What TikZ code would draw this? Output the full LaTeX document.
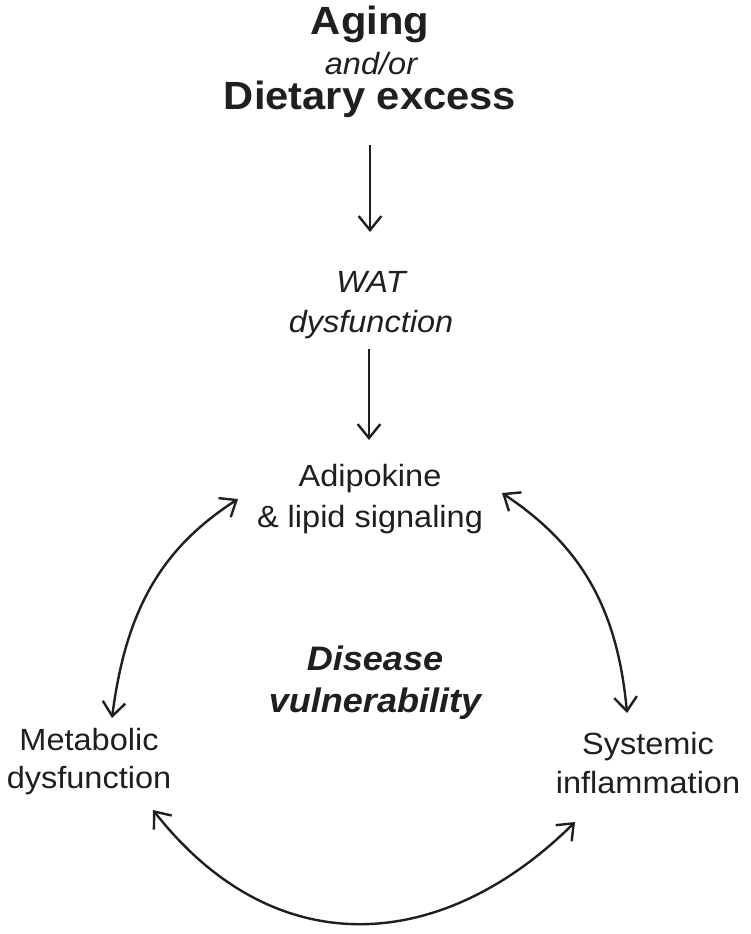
\documentclass[tikz,border=0pt]{standalone}
\usepackage{fontspec}
\setmainfont[FakeStretch=1.06]{Liberation Sans}
\usetikzlibrary{arrows.meta}
\definecolor{ink}{gray}{0.12}
\tikzset{barb/.tip={Straight Barb[length=10.5pt,width=17pt]}}
\begin{document}
\begin{tikzpicture}[x=0.75pt,y=-0.75pt,
  lbl/.style={inner sep=0pt, text=ink, align=center},
  conn/.style={draw=ink, line width=1.8pt, -barb},
  dconn/.style={draw=ink, line width=1.8pt, barb-barb}]
\useasboundingbox[fill=white] (0,0) rectangle (750,934);

% title block
\node[lbl, anchor=base, font=\fontsize{29.5}{34}\selectfont\bfseries] (aging) at (370,35) {Aging};
\node[lbl, anchor=base, font=\fontsize{23}{27}\selectfont\itshape] (andor) at (371,75) {and/or};
\node[lbl, anchor=base, font=\fontsize{29.5}{34}\selectfont\bfseries] (diet) at (370,110) {Dietary excess};

% chain
\node[lbl, anchor=north, font=\fontsize{23}{30}\selectfont\itshape] (wat) at (371,271) {WAT\\dysfunction};
\node[lbl, anchor=north, font=\fontsize{23}{30.75}\selectfont] (adipo) at (370,464) {Adipokine\\\& lipid signaling};
\node[lbl, anchor=north, font=\fontsize{25.5}{31.5}\selectfont\bfseries\itshape] (dis) at (375,646) {Disease\\vulnerability};
\node[lbl, anchor=north, font=\fontsize{23}{28.5}\selectfont] (meta) at (89,728) {Metabolic\\dysfunction};
\node[lbl, anchor=north, font=\fontsize{23}{29.25}\selectfont] (sys) at (648,732) {Systemic\\inflammation};

% connector ends
\coordinate (a1s) at (370,145);
\coordinate (a1e) at (370,232);
\coordinate (a2s) at (369,349);
\coordinate (a2e) at (369,440);
\coordinate (lt) at (238,499);
\coordinate (lb) at (112,718);
\coordinate (rt) at (502,493);
\coordinate (rb) at (627,713);
\coordinate (bl) at (153,810);
\coordinate (br) at (575,822);

\draw[conn] (a1s) -- (a1e);
\draw[conn] (a2s) -- (a2e);
\draw[dconn] (lt) .. controls (162,548) and (126,609) .. (lb);
\draw[dconn] (rt) .. controls (577,543) and (617,603) .. (rb);
\draw[dconn] (bl) .. controls (277,968) and (445,951) .. (br);
\end{tikzpicture}
\end{document}
